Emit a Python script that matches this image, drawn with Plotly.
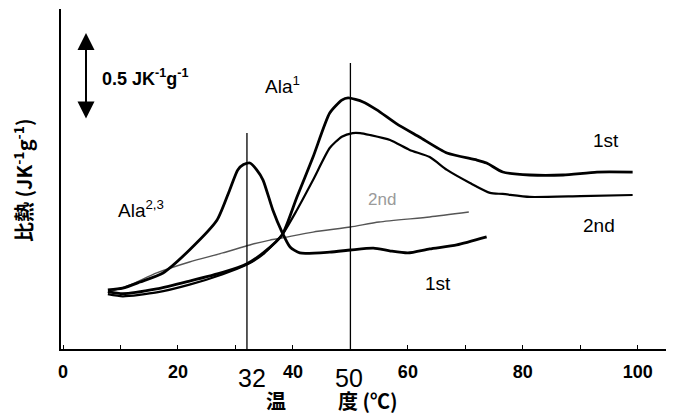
import plotly.graph_objects as go

# Temperature (°C) and relative specific heat (JK^-1 g^-1, arbitrary offset)
t_first_ala23 = [7.8, 10.4, 13.4, 17.4, 22.0, 26.8, 29.0, 30.4, 31.4, 32.5, 33.7, 34.8, 36.5, 38.1, 39.5,
                 41.2, 46.4, 50.0, 54.0, 57.0, 60.0, 63.8, 68.5, 73.7]
cp_first_ala23 = [0.34, 0.35, 0.385, 0.437, 0.569, 0.741, 0.914, 1.029, 1.06, 1.069, 1.03, 0.971, 0.799, 0.672, 0.586,
                  0.552, 0.557, 0.569, 0.580, 0.563, 0.552, 0.575, 0.598, 0.644]

t_first_ala1 = [7.8, 10.4, 16.3, 22.0, 27.8, 32.0, 35.0, 38.1, 40.7, 43.5, 46.4, 48.5, 49.6, 52.2, 54.6,
                58.0, 62.0, 66.8, 72.0, 73.7, 76.5, 81.2, 87.0, 92.9, 99.1]
cp_first_ala1 = [0.33, 0.318, 0.345, 0.39, 0.44, 0.49, 0.557, 0.655, 0.874, 1.103, 1.356, 1.43, 1.443, 1.420, 1.374,
                 1.295, 1.218, 1.126, 1.086, 1.069, 1.017, 1.0, 1.0, 1.017, 1.017]

t_second = [7.8, 10.4, 16.3, 22.0, 27.8, 32.0, 35.0, 38.1, 40.7, 43.5, 46.4, 48.5, 50.4, 51.7, 53.4,
            56.9, 60.3, 63.8, 66.8, 70.8, 74.3, 76.5, 81.2, 90.0, 99.1]
cp_second = [0.315, 0.303, 0.325, 0.37, 0.43, 0.485, 0.55, 0.655, 0.799, 0.971, 1.155, 1.22, 1.241, 1.241, 1.230,
             1.201, 1.144, 1.103, 1.029, 0.954, 0.897, 0.891, 0.874, 0.879, 0.885]

t_second_ala23 = [8.2, 11.7, 16.3, 22.0, 27.8, 32.5, 36.0, 38.1, 43.5, 50.0, 55.0, 63.8, 70.6]
cp_second_ala23 = [0.328, 0.368, 0.437, 0.50, 0.552, 0.598, 0.626, 0.638, 0.672, 0.701, 0.730, 0.759, 0.787]

x_tick_vals = [0, 10, 20, 30, 40, 50, 60, 70, 80, 90, 100]
x_tick_text = ["0", "", "20", "", "40", "", "60", "", "80", "", "100"]

marker_temps = [32, 50]
marker_tops = [1.241, 1.644]
marker_labels = ["32", "50"]

scale_bar_x = 4.0
scale_bar = [1.316, 1.816]

# page body has an 8px margin; plot area is placed at screen px 61..670 x 9..349
OFF = 8
fig = go.Figure()

fig.add_trace(go.Scatter(x=t_second_ala23, y=cp_second_ala23, mode="lines",
                         line=dict(color="#555555", width=1.4, shape="spline", smoothing=0.6)))
fig.add_trace(go.Scatter(x=t_second, y=cp_second, mode="lines",
                         line=dict(color="black", width=2.2, shape="spline", smoothing=0.6)))
fig.add_trace(go.Scatter(x=t_first_ala1, y=cp_first_ala1, mode="lines",
                         line=dict(color="black", width=2.8, shape="spline", smoothing=0.6)))
fig.add_trace(go.Scatter(x=t_first_ala23, y=cp_first_ala23, mode="lines",
                         line=dict(color="black", width=2.8, shape="spline", smoothing=0.6)))

for xt, top in zip(marker_temps, marker_tops):
    fig.add_shape(type="line", x0=xt, x1=xt, y0=0, y1=top, xref="x", yref="y",
                  line=dict(color="black", width=1.3))

# double-headed scale arrow
fig.add_annotation(x=scale_bar_x, y=scale_bar[1], ax=scale_bar_x, ay=scale_bar[0],
                   xref="x", yref="y", axref="x", ayref="y", text="", showarrow=True,
                   arrowhead=2, startarrowhead=2, arrowside="end+start", arrowsize=1.7,
                   startarrowsize=1.7, arrowwidth=2, arrowcolor="black")

lab_font = dict(family="Liberation Sans, Arial", size=19, color="black")

def ann(px, py, text, font, xanchor="left", textangle=0):
    fig.add_annotation(x=(px - 61) / 609, y=(349 - py) / 340, xref="paper", yref="paper",
                       text=text, showarrow=False, xanchor=xanchor, yanchor="middle", font=font,
                       textangle=textangle)

for px, lab in zip([252, 349], marker_labels):
    ann(px, 378, lab, dict(family="Liberation Sans, Arial", size=25, color="black"), xanchor="center")

ann(100, 78, "<b>0.5 JK<sup>-1</sup>g<sup>-1</sup></b>", dict(family="Liberation Sans, Arial", size=18, color="black"))
ann(263, 85, "Ala<sup>1</sup>", lab_font)
ann(116, 209, "Ala<sup>2,3</sup>", lab_font)
ann(591, 140, "1st", lab_font)
ann(581, 226, "2nd", lab_font)
ann(366, 199, "2nd", dict(family="Liberation Sans, Arial", size=17, color="#9a9a9a"))
ann(423, 283, "1st", lab_font)

# axis titles
ann(23, 180, "<b>比熱 (JK<sup>-1</sup>g<sup>-1</sup>)</b>",
    dict(family="Noto Sans CJK JP, Liberation Sans", size=20, color="black"), xanchor="center", textangle=-90)
ann(276, 401, "<b>温</b>", dict(family="Noto Sans CJK JP", size=20, color="black"), xanchor="center")
ann(336, 401, "<b>度 (℃)</b>", dict(family="Noto Sans CJK JP", size=20, color="black"))

fig.update_layout(
    width=674 - OFF, height=415 - OFF,
    margin=dict(l=61 - OFF, r=4, t=9 - OFF, b=66),
    paper_bgcolor="white", plot_bgcolor="white",
    showlegend=False,
    xaxis=dict(range=[-0.35, 105.6], tickvals=x_tick_vals, ticktext=x_tick_text,
               ticks="inside", ticklen=4, tickcolor="black", tickwidth=1.2,
               showline=True, linecolor="black", linewidth=1.6, showgrid=False, zeroline=False,
               ticklabelstandoff=6,
               tickfont=dict(family="Liberation Sans, Arial", size=18, color="black", weight="bold")),
    yaxis=dict(range=[0, 1.954], showticklabels=False, ticks="", showline=True,
               linecolor="black", linewidth=1.6, showgrid=False, zeroline=False),
)

fig.write_html("out.html")
